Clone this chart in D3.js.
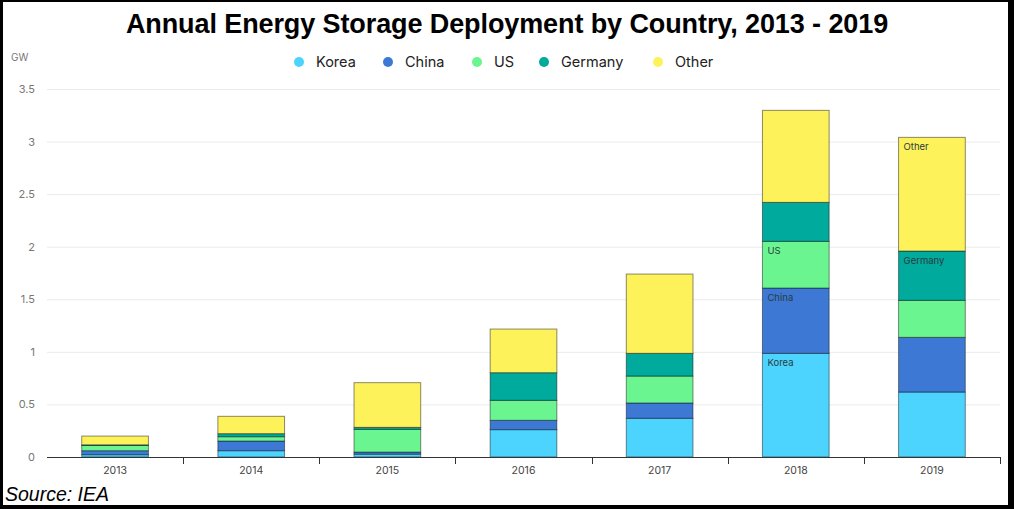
<!DOCTYPE html>
<html>
<head>
<meta charset="utf-8">
<script src="https://cdn.jsdelivr.net/npm/d3@7"></script>
<style>
  body { margin: 0; background: #000; }
  svg { display: block; }
</style>
</head>
<body>
<div class="chart"></div>
<script>
// data (GW)
const years = ["2013", "2014", "2015", "2016", "2017", "2018", "2019"];
const seriesNames = ["Korea", "China", "US", "Germany", "Other"];
const korea   = [0.022, 0.060, 0.027, 0.260, 0.368, 0.986, 0.618];
const china   = [0.038, 0.092, 0.020, 0.089, 0.146, 0.621, 0.520];
const us      = [0.050, 0.041, 0.216, 0.190, 0.256, 0.444, 0.352];
const germany = [0.006, 0.029, 0.019, 0.263, 0.216, 0.371, 0.469];
const other   = [0.083, 0.165, 0.425, 0.415, 0.754, 0.875, 1.081];
const yTicks = [0, 0.5, 1, 1.5, 2, 2.5, 3, 3.5];
const seriesColors = ["#4cd4fe", "#3d79d4", "#6bf590", "#00aa9c", "#fef25a"];
// which segments carry an inline label
const inlineLabels = [
    { year: "2018", series: ["Korea", "China", "US"] },
    { year: "2019", series: ["Germany", "Other"] }
];

const width = 1014;
const height = 509;
const margin = { top: 89, right: 1000, bottom: 457, left: 47 };

const rows = years.map((y, i) => ({
    year: y,
    Korea: korea[i], China: china[i], US: us[i], Germany: germany[i], Other: other[i]
}));

const svg = d3.select('.chart').append('svg')
    .attr('width', width)
    .attr('height', height);

// frame
svg.append('rect')
    .attr('x', 3).attr('y', 2)
    .attr('width', 1005).attr('height', 503)
    .attr('fill', '#fff');

const x = d3.scaleBand()
    .domain(years)
    .range([margin.left, margin.right])
    .paddingInner(0.51)
    .paddingOuter(0.255);

const y = d3.scaleLinear()
    .domain([0, 3.5])
    .range([margin.bottom, margin.top]);

const color = d3.scaleOrdinal()
    .domain(seriesNames)
    .range(seriesColors);

// grid + y labels
const yAxis = d3.axisLeft(y)
    .tickValues(yTicks)
    .tickSize(-(margin.right - margin.left))
    .tickPadding(12)
    .tickFormat(d => d);

svg.append('g')
    .attr('transform', `translate(${margin.left},0)`)
    .call(yAxis)
    .call(g => g.select('.domain').remove())
    .call(g => g.selectAll('.tick line').attr('stroke', '#ebebeb'))
    .call(g => g.selectAll('.tick text')
        .attr('fill', '#777')
        .attr('font-family', 'Inter, "Noto Sans", sans-serif')
        .attr('font-size', 11));

svg.append('text')
    .attr('x', 11)
    .attr('y', 61)
    .attr('fill', '#777')
    .attr('font-family', 'Inter, "Noto Sans", sans-serif')
    .attr('font-size', 10)
    .text('GW');

// stacked bars
const stack = d3.stack().keys(seriesNames);
const layers = stack(rows);

const groups = svg.append('g')
    .selectAll('g')
    .data(layers)
    .enter()
    .append('g')
    .attr('fill', d => color(d.key));

groups.selectAll('rect')
    .data(d => d.map(s => ({ key: d.key, seg: s })))
    .enter()
    .append('rect')
    .attr('x', d => x(d.seg.data.year))
    .attr('y', d => y(d.seg[1]))
    .attr('width', x.bandwidth())
    .attr('height', d => y(d.seg[0]) - y(d.seg[1]))
    .attr('stroke', 'rgba(0,0,0,0.45)')
    .attr('stroke-width', 1);

// inline segment labels
inlineLabels.forEach(lab => {
    lab.series.forEach(name => {
        const layer = layers.find(l => l.key === name);
        const seg = layer[years.indexOf(lab.year)];
        svg.append('text')
            .attr('x', x(lab.year) + 5)
            .attr('y', y(seg[1]) + 12.5)
            .attr('fill', '#2b3b40')
            .attr('font-family', 'Inter, "Noto Sans", sans-serif')
            .attr('font-size', 9.5)
            .text(name);
    });
});

// x axis
const xAxisG = svg.append('g')
    .attr('transform', `translate(0,${margin.bottom})`);

xAxisG.append('line')
    .attr('x1', margin.left).attr('x2', margin.right + 1)
    .attr('y1', 0.5).attr('y2', 0.5)
    .attr('stroke', '#333');

xAxisG.selectAll('.bound')
    .data(years)
    .enter()
    .append('line')
    .attr('class', 'bound')
    .attr('x1', d => Math.round(x(d) + x.bandwidth() / 2 + x.step() / 2) + 0.5)
    .attr('x2', d => Math.round(x(d) + x.bandwidth() / 2 + x.step() / 2) + 0.5)
    .attr('y1', 0)
    .attr('y2', 7)
    .attr('stroke', '#333');

xAxisG.selectAll('.yr')
    .data(years)
    .enter()
    .append('text')
    .attr('x', d => x(d) + x.bandwidth() / 2)
    .attr('y', 17)
    .attr('text-anchor', 'middle')
    .attr('fill', '#444')
    .attr('font-family', 'Inter, "Noto Sans", sans-serif')
    .attr('font-size', 10.5)
    .text(d => d);

// legend
const legendX = [299, 388, 477, 544, 658];
const legend = svg.append('g')
    .selectAll('g')
    .data(seriesNames)
    .enter()
    .append('g')
    .attr('transform', (d, i) => `translate(${legendX[i]},62)`);

legend.append('circle')
    .attr('r', 5)
    .attr('fill', d => color(d));

legend.append('text')
    .attr('x', 17)
    .attr('y', 5)
    .attr('fill', '#222')
    .attr('font-family', 'Inter, "Noto Sans", sans-serif')
    .attr('font-size', 14.5)
    .text(d => d);

// title
svg.append('text')
    .attr('x', 507)
    .attr('y', 33)
    .attr('text-anchor', 'middle')
    .attr('font-family', '"Liberation Sans", Arial, sans-serif')
    .attr('font-weight', 'bold')
    .attr('font-size', 27)
    .attr('letter-spacing', -0.1)
    .attr('fill', '#000')
    .text('Annual Energy Storage Deployment by Country, 2013 - 2019');

// source
svg.append('text')
    .attr('x', 5)
    .attr('y', 501)
    .attr('font-family', '"Liberation Sans", Arial, sans-serif')
    .attr('font-style', 'italic')
    .attr('font-size', 19.5)
    .attr('fill', '#000')
    .text('Source: IEA');
</script>
</body>
</html>
